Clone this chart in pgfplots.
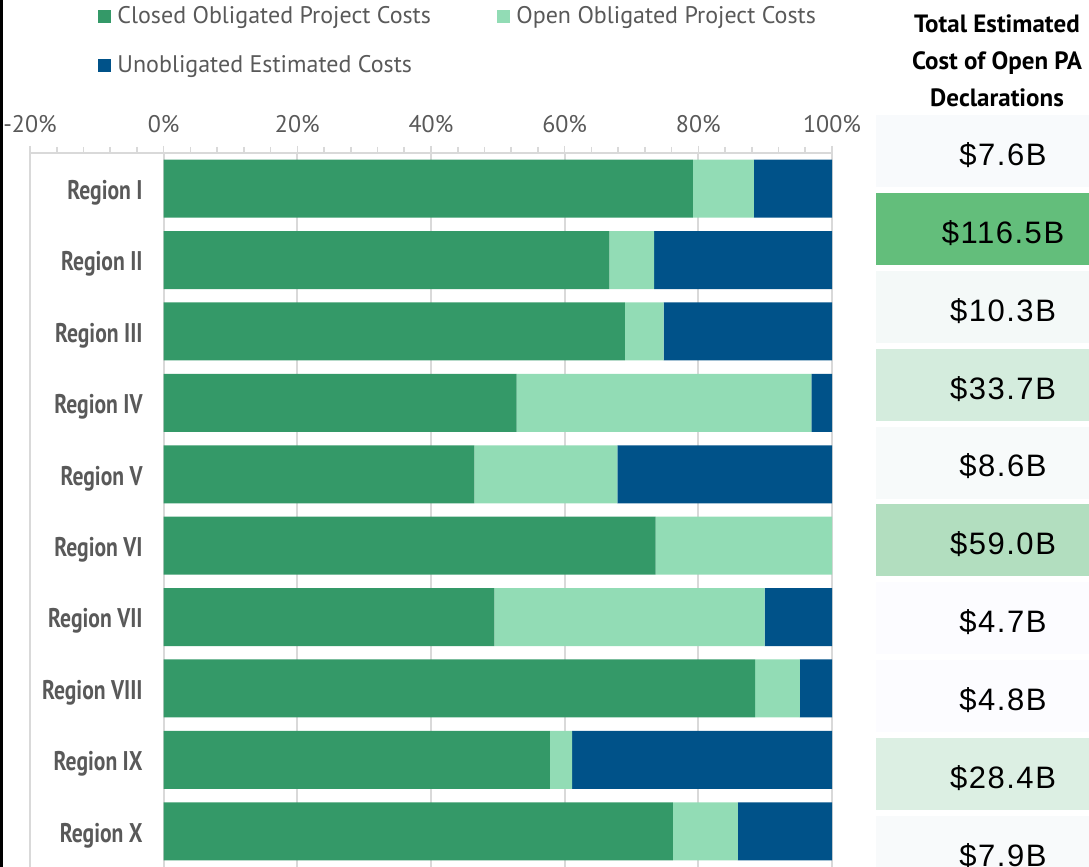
\documentclass[border=0pt]{standalone}
\usepackage{fontspec}
\setmainfont{PT Sans}
\newfontfamily\regfont[FakeStretch=0.8]{PT Sans}
\newfontfamily\tabfont[LetterSpace=5]{Liberation Sans}
\usepackage{pgfplots}
\pgfplotsset{compat=1.18}

\definecolor{closedc}{RGB}{52,153,104}
\definecolor{openc}{RGB}{146,220,181}
\definecolor{unobc}{RGB}{0,82,137}
\definecolor{gridgray}{RGB}{217,217,217}
\definecolor{labelgray}{RGB}{89,89,89}
% table shading: green-white scale
\definecolor{tA}{RGB}{248,250,252}
\definecolor{tB}{RGB}{99,190,123}
\definecolor{tC}{RGB}{244,249,248}
\definecolor{tD}{RGB}{212,236,221}
\definecolor{tE}{RGB}{247,250,250}
\definecolor{tF}{RGB}{178,222,191}
\definecolor{tG}{RGB}{252,252,255}
\definecolor{tH}{RGB}{252,252,255}
\definecolor{tI}{RGB}{220,239,227}
\definecolor{tJ}{RGB}{248,250,251}

\begin{document}
\begin{tikzpicture}
\useasboundingbox (0,0) rectangle (544.5pt,433.5pt);
\fill[black] (0,0) rectangle (1.5pt,433.5pt);

\begin{axis}[
  at={(15pt,0pt)}, anchor=south west,
  scale only axis, width=401pt, height=357pt,
  xbar stacked, bar width=29pt,
  xmin=-20, xmax=100, ymin=0.5, ymax=10.5,
  axis x line*=top, axis y line*=left,
  axis line style={draw=gridgray, line width=1pt},
  xtick={-20,0,...,100}, minor x tick num=4,
  tick align=outside,
  major tick length=3.5pt, minor tick length=3pt,
  x tick style={draw=gridgray, line width=0.8pt},
  xmajorgrids, major grid style={draw=gridgray, line width=1pt},
  xticklabel={\pgfmathprintnumber{\tick}\%},
  /pgf/number format/assume math mode=true,
  xticklabel style={font=\fontsize{12}{14}\selectfont, text=labelgray, yshift=3pt},
  ytick={1,...,10},
  yticklabels={Region X,Region IX,Region VIII,Region VII,Region VI,Region V,Region IV,Region III,Region II,Region I},
  ytick style={draw=none},
  yticklabel style={font=\regfont\bfseries\fontsize{13.5}{15}\selectfont, text=labelgray, anchor=east, inner sep=0pt, xshift=60pt, yshift=-2pt},
  legend columns=2,
  legend cell align=left,
  legend image code/.code={\fill[#1] (0pt,-3.25pt) rectangle (6.5pt,3.25pt);},
  legend style={at={(axis description cs:0.0848,1.211)}, anchor=north west,
    draw=none, fill=none, inner sep=0pt,
    font=\fontsize{12}{14}\selectfont, text=labelgray, row sep=10.5pt,
    /tikz/every odd column/.append style={column sep=1pt},
    /tikz/every even column/.append style={column sep=8pt}},
]
\addplot[fill=closedc, draw=none] coordinates {
  (79.2,10) (66.7,9) (69.0,8) (52.8,7) (46.5,6) (73.6,5) (49.5,4) (88.5,3) (57.8,2) (76.2,1)
};
\addlegendentry{\makebox[180pt][l]{Closed Obligated Project Costs}}
\addplot[fill=openc, draw=none] coordinates {
  (9.1,10) (6.7,9) (5.8,8) (44.1,7) (21.4,6) (26.4,5) (40.4,4) (6.7,3) (3.3,2) (9.7,1)
};
\addlegendentry{\makebox[180pt][l]{Open Obligated Project Costs}}
\addplot[fill=unobc, draw=none] coordinates {
  (11.7,10) (26.6,9) (25.2,8) (3.1,7) (32.1,6) (0,5) (10.1,4) (4.8,3) (38.9,2) (14.1,1)
};
\addlegendentry{\makebox[180pt][l]{Unobligated Estimated Costs}}
\end{axis}

\begin{axis}[
  at={(438pt,-12pt)}, anchor=south west,
  scale only axis, width=127pt, height=389.5pt,
  xmin=0, xmax=1, ymin=0.5, ymax=10.5,
  hide axis, clip=false,
]
\addplot[xbar, bar shift=0pt, bar width=36pt, draw=none, fill=tA] coordinates {(1,10)};
\addplot[xbar, bar shift=0pt, bar width=36pt, draw=none, fill=tB] coordinates {(1,9)};
\addplot[xbar, bar shift=0pt, bar width=36pt, draw=none, fill=tC] coordinates {(1,8)};
\addplot[xbar, bar shift=0pt, bar width=36pt, draw=none, fill=tD] coordinates {(1,7)};
\addplot[xbar, bar shift=0pt, bar width=36pt, draw=none, fill=tE] coordinates {(1,6)};
\addplot[xbar, bar shift=0pt, bar width=36pt, draw=none, fill=tF] coordinates {(1,5)};
\addplot[xbar, bar shift=0pt, bar width=36pt, draw=none, fill=tG] coordinates {(1,4)};
\addplot[xbar, bar shift=0pt, bar width=36pt, draw=none, fill=tH] coordinates {(1,3)};
\addplot[xbar, bar shift=0pt, bar width=36pt, draw=none, fill=tI] coordinates {(1,2)};
\addplot[xbar, bar shift=0pt, bar width=36pt, draw=none, fill=tJ] coordinates {(1,1)};
\addplot[draw=none, mark=none, nodes near coords, point meta=explicit symbolic,
  nodes near coords align={center},
  every node near coord/.append style={font=\tabfont\fontsize{15.5}{17}\selectfont, text=black, yshift=-2pt}]
  coordinates {
  (0.5,10) [\$7.6B] (0.5,9) [\$116.5B] (0.5,8) [\$10.3B] (0.5,7) [\$33.7B] (0.5,6) [\$8.6B]
  (0.5,5) [\$59.0B] (0.5,4) [\$4.7B] (0.5,3) [\$4.8B] (0.5,2) [\$28.4B] (0.5,1) [\$7.9B]
};
\end{axis}

\node[align=center, font=\bfseries\fontsize{12.5}{18.5}\selectfont, text=black] at (498.5pt,403pt)
  {Total Estimated\\Cost of Open PA\\Declarations};
\end{tikzpicture}
\end{document}
